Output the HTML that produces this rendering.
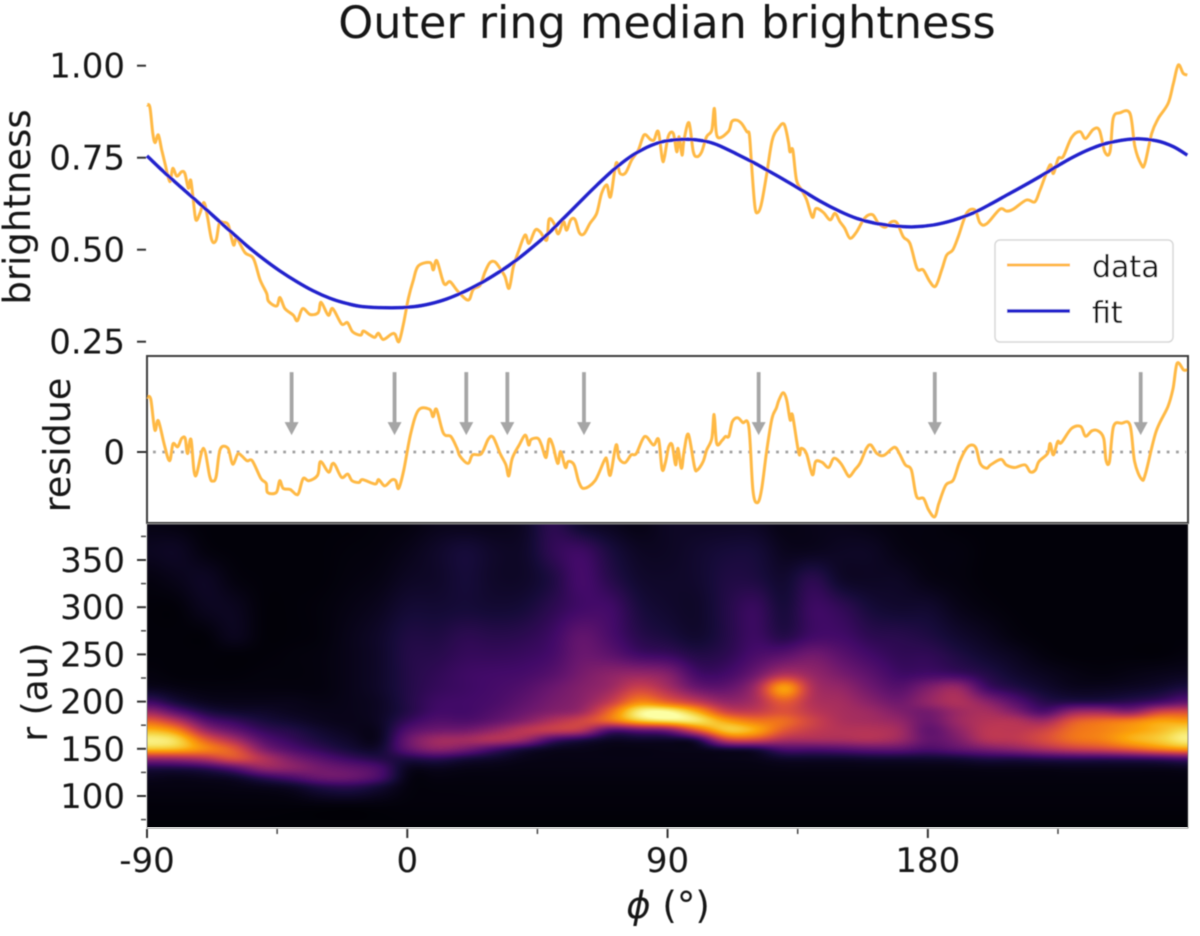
<!DOCTYPE html>
<html lang="en">
<head>
<meta charset="utf-8">
<title>Outer ring median brightness</title>
<style>
html,body{margin:0;padding:0;background:#fff;}
#stage{position:relative;width:1200px;height:936px;overflow:hidden;background:#fff;font-family:"DejaVu Sans","Liberation Sans",sans-serif;}
#heatmap{position:absolute;left:147px;top:524px;width:1041px;height:303px;}
#chart{position:absolute;left:0;top:0;}
text{font-family:"DejaVu Sans","Liberation Sans",sans-serif;fill:#141414;}
</style>
</head>
<body>
<div id="stage">
<canvas id="heatmap" width="1041" height="303"></canvas>
<svg id="chart" width="1200" height="936" viewBox="0 0 1200 936" xmlns="http://www.w3.org/2000/svg">
  <defs>
    <filter id="soft" x="-5%" y="-5%" width="110%" height="110%"><feGaussianBlur stdDeviation="0.5"/></filter>
  </defs>
  <g id="root" filter="url(#soft)">
    <text x="667" y="38" text-anchor="middle" font-size="44.5">Outer ring median brightness</text>
    <text transform="translate(30,207) rotate(-90)" text-anchor="middle" font-size="37">brightness</text>
    <text transform="translate(70,445) rotate(-90)" text-anchor="middle" font-size="36.5">residue</text>
    <text transform="translate(47,692) rotate(-90)" text-anchor="middle" font-size="36">r (au)</text>
    <text x="668" y="918" text-anchor="middle" font-size="37"><tspan font-style="italic">ϕ</tspan> (°)</text>
    <rect x="147" y="356" width="1041" height="167" fill="none" stroke="#3c3c3c" stroke-width="2"/>
    <rect x="147" y="524" width="1041" height="304" fill="none" stroke="#8a8a8a" stroke-width="1"/>
    <g id="axes"></g>
    <g id="marks"></g>
    <g>
      <rect x="995" y="240" width="178" height="102" rx="5" fill="#fff" fill-opacity="0.85" stroke="#d8d8d8" stroke-width="1.5"/>
      <line x1="1007" x2="1070" y1="265" y2="265" stroke="#ffb945" stroke-width="3"/>
      <text x="1092" y="277" font-size="30">data</text>
      <line x1="1007" x2="1070" y1="311" y2="311" stroke="#2020cc" stroke-width="3.4"/>
      <text x="1092" y="323" font-size="30">fit</text>
    </g>
  </g>
</svg>
</div>
<script>
// ---------- chart data ----------
const dataPhi = [-90,-89,-88,-87.2,-86.1,-84.9,-83.8,-82.1,-81.1,-79.7,-78,-76.9,-75.7,-74.9,-74,-73.1,-71.7,-70.3,-69.1,-67.6,-66.1,-65,-63.6,-61.9,-60.1,-59,-56.1,-53.2,-50.9,-48.6,-48,-45.2,-44,-42.3,-39.4,-38,-36.2,-33.6,-30.8,-29.8,-27.3,-25.8,-22.7,-20.7,-18.9,-16.1,-15.2,-12.9,-11.2,-10,-8.3,-5.4,-4.2,-2.9,-1.4,0.4,2.1,3.8,7.9,9,10.2,12.7,14.8,17.6,21.1,22.8,25.2,26.9,28.6,30.3,32.1,33.8,35.2,36.7,38.4,40.7,42.1,44.2,45.9,48.2,49,50.7,52.2,54,55.1,56.5,58,59.5,61.1,63.2,65.5,67.2,69,70.3,72.2,73.6,75.5,77.6,79.9,81.9,84,85.3,86.8,88.2,88.9,90.3,92,93.2,94,95,95.7,97.4,98.9,100.3,101.8,103.5,105.3,106.2,107.2,111,112.2,113.9,115.6,117.4,118.3,119.1,120.2,121.2,122.5,124.3,126.2,128.3,130.3,131.8,132.3,133.3,134.6,136.4,138.1,140.1,141.3,143.9,146.2,147.9,149.6,151.3,153.1,155.4,157.7,159.4,161.1,162.9,165.2,167.5,169.4,171.5,173.8,176.3,178.4,180.7,182.7,184.8,186.5,188.6,190.5,193.4,196.3,198,200.3,204.9,207.2,209.5,214.1,217,218.8,222.2,223.4,225.1,226.8,229.7,232.6,234.5,237.2,239.3,241.2,243,244.1,246.4,249.9,251.6,253.9,255.1,257.4,259.7,263.1,264.9,266.6,268.3,269.7];
const dataValues = [.893,.887,.816,.791,.812,.771,.735,.685,.721,.7,.712,.707,.667,.689,.635,.581,.599,.628,.59,.526,.526,.572,.574,.567,.513,.531,.492,.476,.418,.381,.36,.347,.37,.34,.322,.307,.34,.324,.329,.357,.322,.34,.298,.302,.277,.268,.279,.268,.262,.273,.256,.271,.27,.25,.295,.368,.418,.456,.465,.445,.47,.408,.413,.386,.363,.392,.404,.44,.465,.467,.449,.427,.395,.454,.494,.54,.517,.553,.549,.526,.582,.572,.543,.576,.553,.581,.582,.546,.543,.572,.599,.653,.676,.644,.735,.707,.709,.744,.771,.812,.8,.798,.821,.745,.751,.809,.816,.766,.807,.757,.798,.845,.766,.753,.766,.807,.825,.884,.807,.821,.848,.852,.843,.821,.812,.726,.617,.601,.626,.707,.798,.83,.841,.793,.766,.771,.689,.662,.635,.588,.612,.601,.581,.599,.576,.558,.531,.549,.581,.594,.594,.572,.561,.576,.572,.535,.517,.449,.445,.413,.401,.445,.485,.499,.535,.599,.608,.573,.57,.61,.605,.61,.635,.63,.662,.73,.707,.748,.753,.805,.821,.802,.827,.825,.766,.766,.857,.872,.87,.78,.73,.735,.816,.857,.898,.952,1.002,.979,.975];
const fitPhi = [-90,-84.4,-78.6,-72.8,-67.1,-61.3,-55.5,-49.8,-44,-38.2,-32.5,-26.7,-21,-15.2,-5.4,2.1,7.9,13.6,19.4,25.1,30.9,36.7,42.4,48.2,54,59.7,65.5,71.3,77,82.8,88.5,96.6,103.5,108.1,113.9,119.7,125.4,131.2,137,142.7,149.6,155.4,161.1,166.9,174.4,181.9,188.8,195.7,201.5,207.2,213,218.8,224.5,230.3,236,241.8,251,259.1,264.9,269.7];
const fitValues = [.755,.713,.672,.632,.592,.551,.511,.475,.442,.413,.388,.368,.354,.345,.342,.345,.353,.366,.385,.408,.435,.466,.501,.54,.585,.63,.675,.717,.752,.778,.794,.8,.794,.782,.76,.737,.712,.686,.659,.632,.604,.585,.573,.566,.562,.567,.58,.6,.623,.648,.673,.699,.726,.752,.773,.789,.801,.796,.78,.757];
const residuePhi = [-89.9,-88.7,-87.3,-86.1,-84,-82.2,-81,-79.4,-78,-76.8,-76,-74.8,-73.3,-70.5,-68.3,-67.3,-66.1,-64.7,-62,-60.4,-58.6,-57.2,-55.4,-53.6,-50.6,-48.8,-48.3,-45.3,-44.1,-42.9,-40.5,-38.5,-37.5,-36,-34,-31,-30,-27.2,-26,-25,-22.7,-20.6,-19.1,-16.7,-15.5,-11.1,-9.9,-7.8,-5.4,-4,-3,-1.2,1.2,3.9,7.7,8.9,10.1,12.5,15.1,17.2,18.2,21,22.6,25.6,28,29.7,32.1,34.1,35.1,36.3,38.7,40.8,42,42.8,45.2,46.4,48,49,50.3,52,53,54.7,55.6,57.7,59.3,61.1,64.9,68.2,69,70.2,72.2,73.2,75.3,77.4,79.2,82.1,85.1,86.9,88.1,89.2,90.4,91.6,92.8,93.6,94.8,95.7,97.2,99.3,100.3,102.3,103.5,105.3,106.1,107,108.8,110,111.2,112.4,114.2,116,118.1,119.5,121,122.5,124.3,126.1,127.6,128.5,130,131.2,132.4,133.2,135.4,136.2,138,140.1,141.2,143.4,145.7,147.5,149.9,152.3,153.2,154.7,156.5,158.8,160.3,162.4,164.8,168.4,170.2,172.2,174.3,176.1,178.5,180.3,182.4,183.8,186.2,188.8,191,193.4,195.2,196.7,198.1,200.3,201.7,205.3,207.1,210,213.6,215.4,217.2,218.4,221.4,222.3,223.4,224.9,226.1,229.7,232.9,234.5,236.8,238.9,240.8,241.6,242.8,244.2,247,249.9,251.5,253.9,255.3,258.9,263,264.8,266.2,268.4,269.6];
const residueValues = [.149,.143,.06,.085,.019,-.024,.022,.014,.037,.037,-.004,.034,-.065,.01,-.067,-.079,-.067,.007,.01,-.033,-.005,-.011,-.024,-.024,-.072,-.085,-.11,-.11,-.078,-.099,-.102,-.115,-.111,-.072,-.078,-.063,-.026,-.055,-.033,-.035,-.069,-.06,-.078,-.083,-.075,-.087,-.075,-.092,-.076,-.078,-.099,-.049,.051,.114,.116,.096,.116,.051,.042,.01,-.011,-.031,-.008,-.005,.035,.04,-.004,-.035,-.065,-.017,.019,.046,.019,.034,.037,.019,-.015,.034,.019,-.031,.001,-.042,-.026,-.035,-.081,-.099,-.078,-.022,-.022,-.063,.019,-.017,-.029,-.008,-.004,.042,.019,.034,-.047,-.031,.014,.019,-.035,.01,-.044,.001,.048,-.04,-.049,-.026,.005,.037,.102,.023,.031,.042,.043,.082,.093,.08,.069,-.103,-.138,-.103,.005,.091,.119,.141,.161,.141,.087,.1,-.004,.01,-.004,-.062,-.026,-.028,-.042,-.017,-.031,-.063,-.065,-.049,-.031,.01,.019,-.004,-.009,.013,-.005,-.035,-.049,-.121,-.126,-.158,-.176,-.14,-.09,-.076,-.026,.01,.019,.01,-.031,-.044,-.035,-.02,-.035,-.042,-.035,-.054,-.049,-.026,-.004,.023,-.008,.028,.025,.064,.069,.043,.058,.057,.037,-.022,-.026,.069,.078,.073,-.026,-.074,-.058,.055,.123,.173,.241,.223,.223];
const arrowPhi = [-40,-4.4,20.4,34.6,61.1,121.5,182.4,253.6];
const arrowTopResidue = [.217,.217,.217,.217,.217,.217,.217,.217];
const arrowTipResidue = [.046,.046,.046,.046,.046,.046,.046,.046];
const brightnessTicks = [1.00,0.75,0.50,0.25];
const brightnessTickLabels = ["1.00","0.75","0.50","0.25"];
const residueTicks = [0];
const residueTickLabels = ["0"];
const radiusTicks = [350,300,250,200,150,100];
const radiusTickLabels = ["350","300","250","200","150","100"];
const radiusMinorTicks = [375,325,275,225,175,125,75];
const phiTicks = [-90,0,90,180];
const phiTickLabels = ["-90","0","90","180"];
const phiMinorTicks = [-45,45,135,225];
const heatPhi = [-90,-80,-70,-60,-50,-40,-30,-20,-10,0,10,20,30,40,50,60,70,80,90,100,110,120,130,140,150,160,170,180,190,200,210,220,230,240,250,260,270];
const heatRadius = [390,360,330,300,270,250,230,215,200,190,180,170,160,150,140,130,120,110,90,70];
const heatValues = [
[.03,.05,.02,.01,.01,.01,.02,.05,.2,.42,.66,.85,.97,.86,.4,.12,.05,.025,.012,.006],
[.02,.06,.04,.01,.01,.01,.01,.03,.1,.25,.5,.75,.92,.84,.42,.12,.04,.025,.012,.006],
[.01,.02,.06,.05,.01,.01,.01,.02,.05,.12,.25,.42,.64,.74,.48,.15,.05,.025,.012,.006],
[.01,.01,.02,.05,.05,.01,.01,.02,.04,.08,.17,.28,.45,.62,.6,.25,.07,.03,.012,.006],
[.01,.01,.01,.01,.01,.01,.015,.02,.04,.07,.11,.17,.25,.35,.48,.4,.15,.04,.012,.006],
[.01,.01,.01,.01,.01,.015,.015,.02,.04,.05,.08,.13,.17,.23,.34,.38,.22,.06,.012,.006],
[.01,.01,.01,.015,.015,.02,.02,.02,.03,.04,.05,.08,.11,.16,.25,.32,.3,.12,.015,.006],
[.01,.015,.02,.03,.04,.04,.04,.04,.04,.04,.04,.05,.07,.1,.18,.28,.3,.14,.015,.006],
[.015,.02,.03,.05,.07,.07,.07,.07,.06,.06,.06,.05,.05,.08,.13,.22,.22,.09,.015,.006],
[.02,.04,.06,.09,.12,.13,.13,.13,.13,.13,.17,.24,.3,.27,.12,.05,.03,.02,.012,.006],
[.04,.07,.07,.09,.12,.14,.16,.17,.19,.2,.24,.31,.43,.38,.15,.05,.025,.015,.012,.006],
[.04,.1,.1,.1,.15,.17,.19,.19,.2,.2,.23,.32,.44,.32,.1,.035,.02,.015,.012,.006],
[.04,.07,.07,.09,.14,.17,.2,.21,.22,.24,.28,.4,.48,.2,.07,.03,.02,.015,.012,.006],
[.06,.07,.07,.1,.15,.18,.21,.24,.27,.3,.36,.5,.42,.1,.04,.025,.02,.015,.012,.006],
[.15,.16,.12,.15,.19,.21,.25,.3,.33,.36,.47,.53,.2,.05,.03,.025,.02,.015,.012,.006],
[.07,.19,.21,.2,.28,.3,.33,.36,.38,.42,.56,.5,.12,.04,.03,.025,.02,.015,.012,.006],
[.05,.11,.14,.2,.22,.27,.38,.42,.52,.67,.68,.22,.06,.03,.03,.025,.02,.015,.012,.006],
[.03,.06,.08,.11,.14,.2,.4,.55,.74,.97,.87,.27,.07,.03,.03,.025,.02,.015,.012,.006],
[.06,.06,.07,.08,.11,.18,.36,.45,.64,1,.94,.32,.07,.035,.03,.025,.02,.015,.012,.006],
[.06,.08,.08,.07,.08,.13,.2,.3,.52,.82,.95,.62,.12,.04,.03,.025,.02,.015,.012,.006],
[.06,.1,.12,.13,.13,.15,.2,.28,.4,.55,.8,.88,.55,.08,.035,.025,.02,.015,.012,.006],
[.06,.1,.12,.18,.19,.22,.3,.42,.45,.52,.7,.82,.58,.1,.04,.025,.02,.015,.012,.006],
[.03,.05,.08,.1,.13,.26,.46,.82,.64,.6,.68,.62,.46,.22,.07,.03,.02,.015,.012,.006],
[.04,.05,.15,.19,.2,.32,.4,.46,.47,.5,.55,.52,.45,.22,.07,.03,.02,.015,.012,.006],
[.04,.06,.07,.16,.2,.26,.33,.4,.44,.45,.46,.48,.45,.24,.07,.03,.02,.015,.012,.006],
[.03,.06,.06,.1,.15,.2,.26,.31,.37,.42,.44,.48,.47,.27,.08,.03,.02,.015,.012,.006],
[.02,.03,.06,.08,.14,.16,.19,.25,.31,.35,.4,.44,.42,.27,.08,.03,.02,.015,.012,.006],
[.02,.02,.03,.08,.12,.16,.2,.35,.4,.32,.3,.27,.28,.22,.08,.03,.02,.015,.012,.006],
[.01,.02,.02,.04,.08,.12,.18,.42,.47,.42,.42,.38,.34,.27,.09,.03,.02,.015,.012,.006],
[.01,.01,.01,.02,.05,.08,.13,.2,.38,.45,.48,.5,.48,.33,.12,.035,.02,.015,.012,.006],
[.01,.01,.01,.01,.02,.05,.08,.13,.25,.35,.48,.5,.5,.38,.12,.035,.02,.015,.012,.006],
[.01,.01,.01,.01,.01,.02,.05,.08,.14,.22,.42,.55,.58,.45,.14,.035,.02,.015,.012,.006],
[.01,.01,.01,.01,.01,.01,.03,.05,.13,.4,.62,.68,.68,.52,.15,.04,.02,.015,.012,.006],
[.01,.01,.01,.01,.01,.01,.02,.05,.13,.42,.68,.72,.72,.56,.15,.04,.02,.015,.012,.006],
[.01,.01,.01,.01,.01,.01,.03,.06,.15,.36,.72,.78,.82,.63,.16,.04,.02,.015,.012,.006],
[.01,.01,.01,.01,.01,.01,.04,.08,.2,.55,.8,.84,.88,.72,.18,.04,.02,.015,.012,.006],
[.01,.01,.01,.01,.01,.02,.05,.12,.28,.58,.78,.93,.98,.78,.22,.05,.02,.015,.012,.006]
];
const infernoStops = [[0,0,4],[22,11,57],[66,10,104],[106,23,110],[147,38,103],[188,55,84],[221,81,58],[243,120,25],[252,165,10],[246,215,70],[252,255,164]];

// ---------- axis functions ----------
const SVG_NS = "http://www.w3.org/2000/svg";
function xPhi(p){ return 147 + (p + 90) * 2.892; }
function yBrightness(v){ return 341.7 - (v - 0.25) * 368; }
function yResidue(v){ return 452 - v * 368; }
function yRadius(r){ return 560 + (350 - r) * 0.944; }

const axes = document.getElementById("axes");
const marks = document.getElementById("marks");

function make(tag, attrs, parent){
  const el = document.createElementNS(SVG_NS, tag);
  for (const k in attrs) el.setAttribute(k, attrs[k]);
  parent.appendChild(el);
  return el;
}

// ---------- y ticks ----------
brightnessTicks.forEach((t, i) => {
  const y = yBrightness(t);
  const tick = make("line", {x1:137, x2:146, y1:y, y2:y, stroke:"#333", "stroke-width":2}, axes);
  
  
  const label = make("text", {x:125, y:y + 12, "text-anchor":"end", "font-size":34}, axes);
  label.textContent = brightnessTickLabels[i];
  
  
});
residueTicks.forEach((t, i) => {
  const y = yResidue(t);
  const tick = make("line", {x1:137, x2:146, y1:y, y2:y, stroke:"#333", "stroke-width":2}, axes);
  
  
  const label = make("text", {x:125, y:y + 12, "text-anchor":"end", "font-size":34}, axes);
  label.textContent = residueTickLabels[i];
  
  
});
radiusTicks.forEach((t, i) => {
  const y = yRadius(t);
  const tick = make("line", {x1:137, x2:146, y1:y, y2:y, stroke:"#333", "stroke-width":2}, axes);
  
  
  const label = make("text", {x:125, y:y + 12, "text-anchor":"end", "font-size":34}, axes);
  label.textContent = radiusTickLabels[i];
  
  
});
radiusMinorTicks.forEach((t) => {
  const y = yRadius(t);
  const tick = make("line", {x1:141, x2:146, y1:y, y2:y, stroke:"#444", "stroke-width":1.5}, axes);
  
  
});

// ---------- x ticks ----------
phiTicks.forEach((t, i) => {
  const x = xPhi(t);
  const tick = make("line", {x1:x, x2:x, y1:829, y2:838, stroke:"#333", "stroke-width":2}, axes);
  
  
  const label = make("text", {x:x, y:872, "text-anchor":"middle", "font-size":34}, axes);
  label.textContent = phiTickLabels[i];
  
  
});
phiMinorTicks.forEach((t) => {
  const x = xPhi(t);
  const tick = make("line", {x1:x, x2:x, y1:829, y2:834, stroke:"#444", "stroke-width":1.5}, axes);
  
  
});

// ---------- series ----------
function smoothPath(px, py){
  let d = "M" + px[0].toFixed(1) + " " + py[0].toFixed(1);
  for (let i = 0; i < px.length - 1; i++){
    const a = Math.max(i - 1, 0), b = Math.min(i + 2, px.length - 1);
    const c1x = px[i] + (px[i + 1] - px[a]) / 6, c1y = py[i] + (py[i + 1] - py[a]) / 6;
    const c2x = px[i + 1] - (px[b] - px[i]) / 6, c2y = py[i + 1] - (py[b] - py[i]) / 6;
    d += "C" + c1x.toFixed(1) + " " + c1y.toFixed(1) + " " + c2x.toFixed(1) + " " + c2y.toFixed(1) + " " + px[i + 1].toFixed(1) + " " + py[i + 1].toFixed(1);
  }
  return d;
}

const dataLine = make("path", {d:smoothPath(dataPhi.map(xPhi), dataValues.map(yBrightness)), fill:"none", stroke:"#ffb945", "stroke-width":3, "stroke-linejoin":"round"}, marks);



const fitLine = make("path", {d:smoothPath(fitPhi.map(xPhi), fitValues.map(yBrightness)), fill:"none", stroke:"#2020cc", "stroke-width":3.4}, marks);



const zeroLine = make("line", {x1:xPhi(-90) + 6, x2:xPhi(270) - 2, y1:yResidue(0), y2:yResidue(0), stroke:"#a0a0a0", "stroke-width":2.8, "stroke-dasharray":"2.8 6.5"}, marks);



arrowPhi.forEach((p, i) => {
  const x = xPhi(p), y0 = yResidue(arrowTopResidue[i]), y1 = yResidue(arrowTipResidue[i]);
  const shaft = make("line", {x1:x, x2:x, y1:y0, y2:y1 - 10, stroke:"#a6a6a6", "stroke-width":3.8}, marks);
  
  
  const head = make("polygon", {points:(x - 7) + "," + (y1 - 13) + " " + (x + 7) + "," + (y1 - 13) + " " + x + "," + y1, fill:"#a6a6a6"}, marks);
  
  
});

const residueLine = make("path", {d:smoothPath(residuePhi.map(xPhi), residueValues.map(yResidue)), fill:"none", stroke:"#ffb945", "stroke-width":3, "stroke-linejoin":"round"}, marks);



// ---------- heatmap ----------
function cr(a, b, c, d, t){
  return 0.5 * (2 * b + (c - a) * t + (2 * a - 5 * b + 4 * c - d) * t * t + (3 * b - a - 3 * c + d) * t * t * t);
}
function inferno(v){
  const s = Math.min(Math.max(v, 0), 1) * (infernoStops.length - 1);
  const i = Math.min(Math.floor(s), infernoStops.length - 2), f = s - i;
  const a = infernoStops[i], b = infernoStops[i + 1];
  return [a[0] + (b[0] - a[0]) * f, a[1] + (b[1] - a[1]) * f, a[2] + (b[2] - a[2]) * f];
}
function radiusIndex(r){
  for (let i = 0; i < heatRadius.length - 1; i++){
    if (r >= heatRadius[i + 1]) return i + (heatRadius[i] - r) / (heatRadius[i] - heatRadius[i + 1]);
  }
  return heatRadius.length - 1;
}
function phiIndex(p){
  for (let i = 0; i < heatPhi.length - 1; i++){
    if (p <= heatPhi[i + 1]) return i + (p - heatPhi[i]) / (heatPhi[i + 1] - heatPhi[i]);
  }
  return heatPhi.length - 1;
}
function boxBlur(src, W, H, rx, ry){
  const tmp = new Float32Array(W * H), out = new Float32Array(W * H);
  for (let y = 0; y < H; y++){
    for (let x = 0; x < W; x++){
      let s = 0, n = 0;
      for (let q = Math.max(0, x - rx); q <= Math.min(W - 1, x + rx); q++){ s += src[y * W + q]; n++; }
      tmp[y * W + x] = s / n;
    }
  }
  for (let x = 0; x < W; x++){
    for (let y = 0; y < H; y++){
      let s = 0, n = 0;
      for (let q = Math.max(0, y - ry); q <= Math.min(H - 1, y + ry); q++){ s += tmp[q * W + x]; n++; }
      out[y * W + x] = s / n;
    }
  }
  return out;
}
(function drawHeatmap(){
  const cv = document.getElementById("heatmap");
  const ctx = cv.getContext("2d");
  const W = cv.width, H = cv.height;
  const img = ctx.createImageData(W, H);
  const nc = heatPhi.length, nr = heatRadius.length;
  const rowInfo = [];
  for (let py = 0; py < H; py++){
    const r = 350 - (py + 524 - 560) / 0.944;
    const idx = Math.max(0, Math.min(nr - 1.0001, radiusIndex(r)));
    rowInfo.push([Math.floor(idx), idx - Math.floor(idx)]);
  }
  const colInfo = [];
  for (let px = 0; px < W; px++){
    const p = px / 2.892 - 90;
    const idx = Math.max(0, Math.min(nc - 1.0001, phiIndex(p)));
    colInfo.push([Math.floor(idx), idx - Math.floor(idx)]);
  }
  function col(c){ return heatValues[Math.max(0, Math.min(nc - 1, c))]; }
  function at(arr, j){ return arr[Math.max(0, Math.min(nr - 1, j))]; }
  let field = new Float32Array(W * H);
  for (let py = 0; py < H; py++){
    const j = rowInfo[py][0], fy = rowInfo[py][1];
    for (let px = 0; px < W; px++){
      const c = colInfo[px][0], fx = colInfo[px][1];
      const vals = [];
      for (let q = -1; q <= 2; q++){
        const arr = col(c + q);
        vals.push(cr(at(arr, j - 1), at(arr, j), at(arr, j + 1), at(arr, j + 2), fy));
      }
      field[py * W + px] = cr(vals[0], vals[1], vals[2], vals[3], fx);
    }
  }
  field = boxBlur(field, W, H, 6, 2);
  field = boxBlur(field, W, H, 6, 2);
  let k = 0;
  for (let i = 0; i < W * H; i++){
    const rgb = inferno(field[i]);
    img.data[k++] = rgb[0];
    img.data[k++] = rgb[1];
    img.data[k++] = rgb[2];
    img.data[k++] = 255;
  }
  ctx.putImageData(img, 0, 0);
})();
</script>
</body>
</html>
